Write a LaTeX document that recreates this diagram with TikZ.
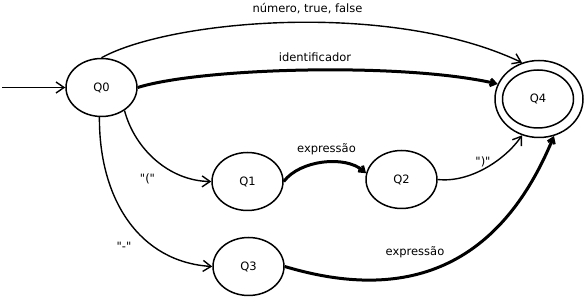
\documentclass[tikz,border=0pt]{standalone}
\usepackage{fontspec}
\setmainfont{DejaVu Sans}
\usetikzlibrary{shapes.geometric,arrows.meta}
\begin{document}
\begin{tikzpicture}[x=1pt,y=-1pt,
  state/.style={ellipse,draw,line width=1.5pt,minimum width=71pt,minimum height=58pt,
    inner sep=0pt,font=\fontsize{11.5}{13}\selectfont},
  accept/.style={ellipse,draw,line width=1.5pt,minimum width=88pt,minimum height=77pt,inner sep=0pt},
  thin/.style={line width=1.4pt,-{Straight Barb[length=8pt,width=11pt]}},
  bold/.style={line width=3pt,-{Straight Barb[length=5pt,width=7pt]}},
  lbl/.style={font=\fontsize{11.5}{13}\selectfont,inner sep=0pt}]
\useasboundingbox (0,0) rectangle (587,299);

% states
\node[state] (Q0) at (101.5,87.5) {Q0};
\node[state] (Q1) at (247.5,181.5) {Q1};
\node[state] (Q2) at (401.5,179.5) {Q2};
\node[state] (Q3) at (248.5,266.5) {Q3};
\node[state] (Q4) at (538,99) {Q4};
\node[accept] (Q4o) at (539,99) {};
\coordinate (in) at (2,87.5);

% transitions
\draw[thin] (in) -- (Q0.west);
\draw[thin] (Q0.north) .. controls (170,20) and (390,0) .. (Q4o.115);
\draw[bold] (Q0.east) .. controls (200,68) and (400,62) .. (Q4o.160);
\draw[thin] (Q0.315) .. controls (135,150) and (170,181) .. (Q1.west);
\draw[thin] (Q0.266) .. controls (99,200) and (140,262) .. (Q3.west);
\draw[bold] (Q1.east) .. controls (300,160) and (345,155) .. (Q2.170);
\draw[thin] (Q2.east) .. controls (470,183) and (505,160) .. (Q4o.245);
\draw[bold] (Q3.east) .. controls (380,295) and (490,290) .. (Q4o.292);

% labels
\node[lbl] (l1) at (307.5,9) {número, true, false};
\node[lbl] (l2) at (315,57) {identificador};
\node[lbl] (l3) at (326.5,149) {expressão};
\node[lbl] (l4) at (415,252) {expressão};
\node[lbl] (l5) at (483,162) {\textquotedbl)\textquotedbl};
\node[lbl] (l6) at (147.5,179) {\textquotedbl(\textquotedbl};
\node[lbl] (l7) at (124,246) {\textquotedbl-\textquotedbl};
\end{tikzpicture}
\end{document}
